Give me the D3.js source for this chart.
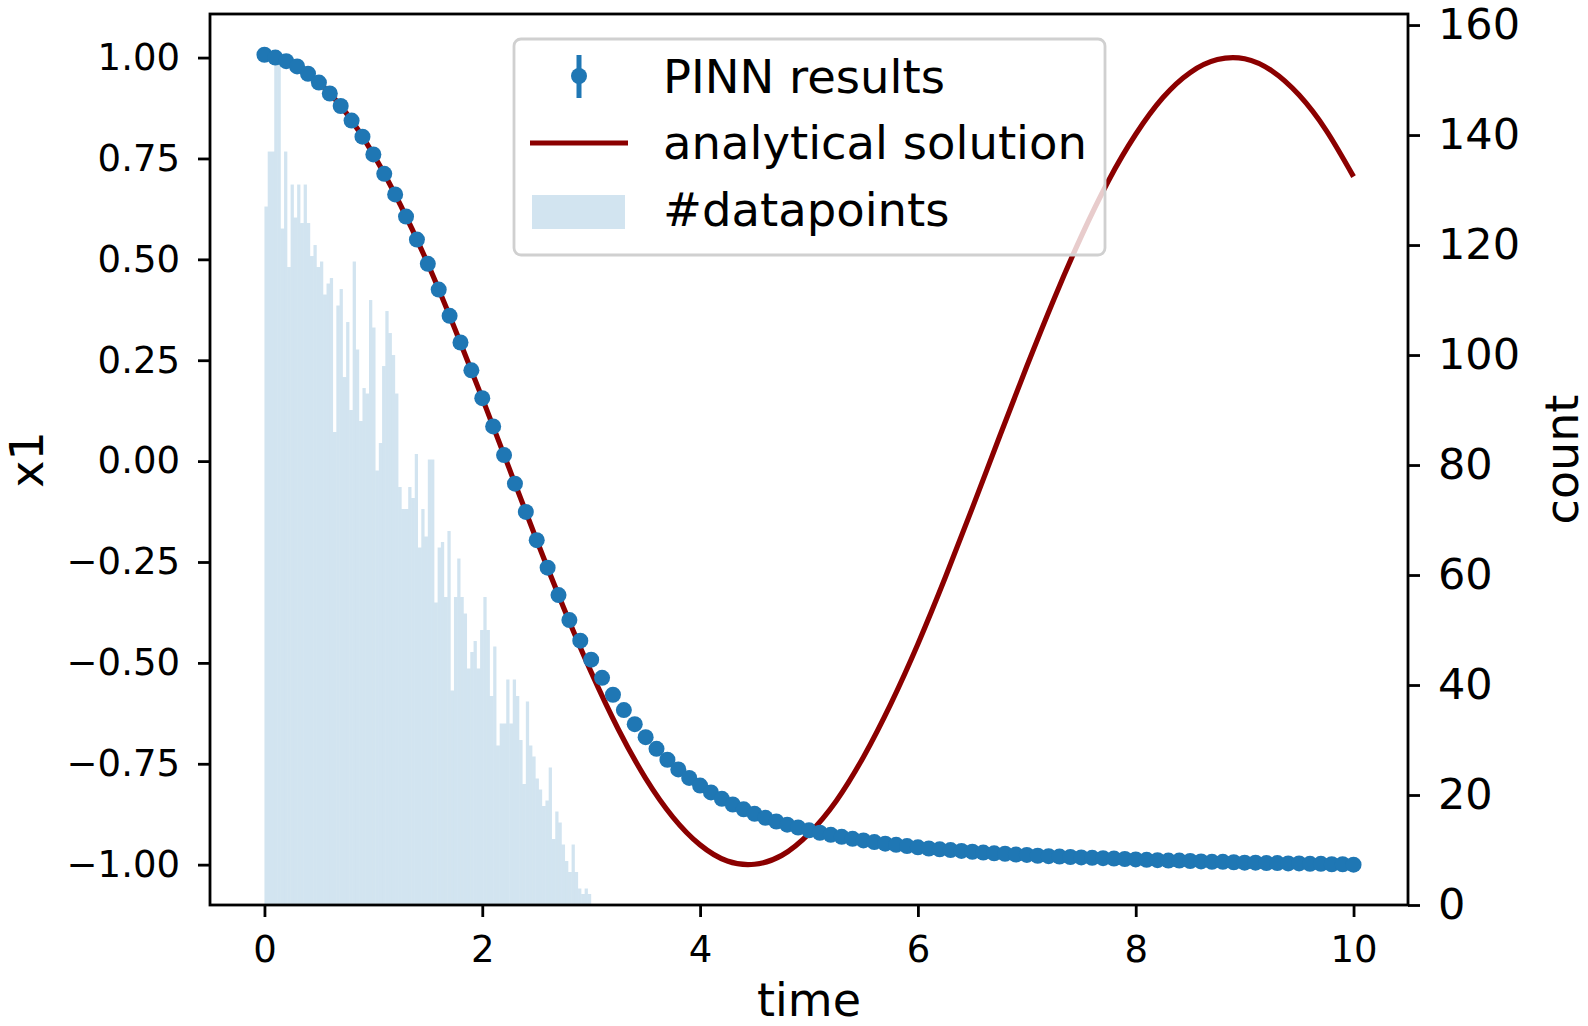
<!DOCTYPE html>
<html lang="en">
<head>
  <meta charset="UTF-8">
  <title>PINN results vs analytical solution</title>
  <style>
    body { margin: 0; background: #fff; }
    text { font-family: "DejaVu Sans", sans-serif; fill: #000; }
  </style>
</head>
<body>
  <div class="canvas"></div>
  <script src="https://d3js.org/d3.v7.min.js"></script>
  <script>
    // histogram of collocation points: 100 bins of width 0.03 on [0, 3]
    const binWidth = 0.03;
    const counts = [
      127, 137, 137, 154, 153, 123, 137, 116, 131, 125,
      131, 124, 131, 124, 118, 120, 116, 117, 111, 113,
      114, 86, 109, 112, 96, 106, 90, 117, 101, 88,
      94, 93, 110, 105, 79, 84, 98, 108, 104, 100,
      93, 76, 72, 72, 76, 74, 82, 65, 72, 67,
      81, 81, 55, 65, 66, 56, 68, 39, 56, 63,
      56, 53, 43, 46, 48, 43, 50, 56, 50, 38,
      47, 29, 33, 33, 41, 33, 41, 38, 30, 22,
      37, 29, 27, 23, 21, 18, 19, 25, 12, 17,
      15, 11, 8, 6, 11, 6, 3, 2, 3, 2
    ];

    // PINN prediction at t = 0, 0.1, ..., 10
    const pinnTime = d3.range(0, 101).map(i => i / 10);
    const pinnValues = [
      1.007, 1.000, 0.991, 0.978, 0.960, 0.938, 0.911, 0.880, 0.844, 0.804,
      0.760, 0.712, 0.661, 0.606, 0.549, 0.489, 0.425, 0.360, 0.294, 0.225,
      0.156, 0.086, 0.015, -0.056, -0.126, -0.196, -0.264, -0.332, -0.394, -0.445,
      -0.492, -0.537, -0.579, -0.617, -0.652, -0.684, -0.713, -0.740, -0.764, -0.785,
      -0.804, -0.821, -0.837, -0.851, -0.863, -0.874, -0.884, -0.893, -0.901, -0.908,
      -0.915, -0.921, -0.926, -0.931, -0.936, -0.940, -0.944, -0.948, -0.951, -0.954,
      -0.957, -0.960, -0.962, -0.964, -0.966, -0.968, -0.970, -0.972, -0.973, -0.975,
      -0.976, -0.978, -0.979, -0.980, -0.981, -0.982, -0.983, -0.984, -0.985, -0.986,
      -0.987, -0.988, -0.989, -0.990, -0.990, -0.991, -0.992, -0.993, -0.993, -0.994,
      -0.995, -0.995, -0.996, -0.996, -0.997, -0.997, -0.998, -0.998, -0.999, -0.999,
      -1.000
    ];

    // analytical solution sampled every 0.25
    const exactTime = d3.range(0, 41).map(i => i / 4);
    const exactValues = [
      1.000, 0.984, 0.938, 0.863, 0.760, 0.634, 0.489, 0.327, 0.156, -0.020,
      -0.196, -0.365, -0.523, -0.665, -0.786, -0.882, -0.951, -0.991, -0.999, -0.977,
      -0.923, -0.842, -0.733, -0.602, -0.453, -0.289, -0.116, 0.061, 0.235, 0.402,
      0.557, 0.695, 0.810, 0.901, 0.963, 0.995, 0.997, 0.967, 0.907, 0.819,
      0.705
    ];

    const xTicks = [0, 2, 4, 6, 8, 10];
    const yTicks = [-1, -0.75, -0.5, -0.25, 0, 0.25, 0.5, 0.75, 1];
    const countTicks = [0, 20, 40, 60, 80, 100, 120, 140, 160];

    const width = 1588;
    const height = 1026;
    const plot = {left: 210, right: 1408, top: 14, bottom: 905};
    const blue = '#1f77b4';
    const red = '#8b0000';

    const svg = d3.select('.canvas')
      .append('svg')
      .attr('width', width)
      .attr('height', height);

    const x = d3.scaleLinear()
      .domain([-0.5, 10.5])
      .range([plot.left, plot.right]);

    const y = d3.scaleLinear()
      .domain([-1.1, 1.108])
      .range([plot.bottom, plot.top]);

    const yCount = d3.scaleLinear()
      .domain([0, d3.max(counts) * 1.052])
      .range([plot.bottom, plot.top]);

    // histogram (twin axis)
    svg.append('g')
      .selectAll('rect')
      .data(counts)
      .enter()
      .append('rect')
      .attr('x', (d, i) => x(i * binWidth))
      .attr('width', x(binWidth) - x(0))
      .attr('y', d => yCount(d))
      .attr('height', d => yCount(0) - yCount(d))
      .attr('fill', blue)
      .attr('fill-opacity', 0.2);

    // analytical solution
    const line = d3.line()
      .x((d, i) => x(exactTime[i]))
      .y(d => y(d))
      .curve(d3.curveNatural);

    svg.append('path')
      .datum(exactValues)
      .attr('d', line)
      .attr('fill', 'none')
      .attr('stroke', red)
      .attr('stroke-width', 5.2);

    // PINN points
    svg.append('g')
      .selectAll('circle')
      .data(pinnValues)
      .enter()
      .append('circle')
      .attr('cx', (d, i) => x(pinnTime[i]))
      .attr('cy', d => y(d))
      .attr('r', 8)
      .attr('fill', blue);

    // axes
    const fmt = d3.format('.2f');
    const gX = svg.append('g')
      .attr('transform', `translate(0, ${plot.bottom})`)
      .call(d3.axisBottom(x).tickValues(xTicks).tickSize(12).tickPadding(19));
    const gY = svg.append('g')
      .attr('transform', `translate(${plot.left}, 0)`)
      .call(d3.axisLeft(y).tickValues(yTicks).tickFormat(fmt).tickSize(12).tickPadding(18));
    const gC = svg.append('g')
      .attr('transform', `translate(${plot.right}, 0)`)
      .call(d3.axisRight(yCount).tickValues(countTicks).tickSize(12).tickPadding(18));

    [gX, gY, gC].forEach(g => {
      g.select('.domain').remove();
      g.selectAll('line').attr('stroke', '#000').attr('stroke-width', 2.8);
      g.selectAll('text')
        .style('font-family', '"DejaVu Sans", sans-serif')
        .style('font-size', '37px')
        .attr('fill', '#000');
    });
    // the count axis uses bigger labels
    gC.selectAll('text').style('font-size', '43px');

    svg.append('rect')
      .attr('x', plot.left)
      .attr('y', plot.top)
      .attr('width', plot.right - plot.left)
      .attr('height', plot.bottom - plot.top)
      .attr('fill', 'none')
      .attr('stroke', '#000')
      .attr('stroke-width', 2.8);

    // axis labels
    svg.append('text')
      .attr('x', (plot.left + plot.right) / 2)
      .attr('y', 1016)
      .attr('text-anchor', 'middle')
      .style('font-size', '46px')
      .text('time');

    svg.append('text')
      .attr('transform', `translate(43, ${(plot.top + plot.bottom) / 2}) rotate(-90)`)
      .attr('text-anchor', 'middle')
      .style('font-size', '46px')
      .text('x1');

    svg.append('text')
      .attr('transform', `translate(1578, ${(plot.top + plot.bottom) / 2}) rotate(-90)`)
      .attr('text-anchor', 'middle')
      .style('font-size', '46px')
      .text('count');

    // legend
    const legend = svg.append('g');
    legend.append('rect')
      .attr('x', 514)
      .attr('y', 39)
      .attr('width', 591)
      .attr('height', 216)
      .attr('rx', 7)
      .attr('fill', '#fff')
      .attr('fill-opacity', 0.8)
      .attr('stroke', '#d0d0d0')
      .attr('stroke-width', 2.8);

    legend.append('line')
      .attr('x1', 579).attr('x2', 579)
      .attr('y1', 55).attr('y2', 98)
      .attr('stroke', blue)
      .attr('stroke-width', 5);
    legend.append('circle')
      .attr('cx', 579).attr('cy', 76)
      .attr('r', 8)
      .attr('fill', blue);

    legend.append('line')
      .attr('x1', 530).attr('x2', 628)
      .attr('y1', 143).attr('y2', 143)
      .attr('stroke', red)
      .attr('stroke-width', 5.2);

    legend.append('rect')
      .attr('x', 532).attr('y', 195)
      .attr('width', 93).attr('height', 34)
      .attr('fill', blue)
      .attr('fill-opacity', 0.2);

    const labels = ['PINN results', 'analytical solution', '#datapoints'];
    legend.selectAll('text.leg')
      .data(labels)
      .enter()
      .append('text')
      .attr('class', 'leg')
      .attr('x', 663)
      .attr('y', (d, i) => [93, 159, 226][i])
      .style('font-size', '46.5px')
      .text(d => d);
  </script>
</body>
</html>
